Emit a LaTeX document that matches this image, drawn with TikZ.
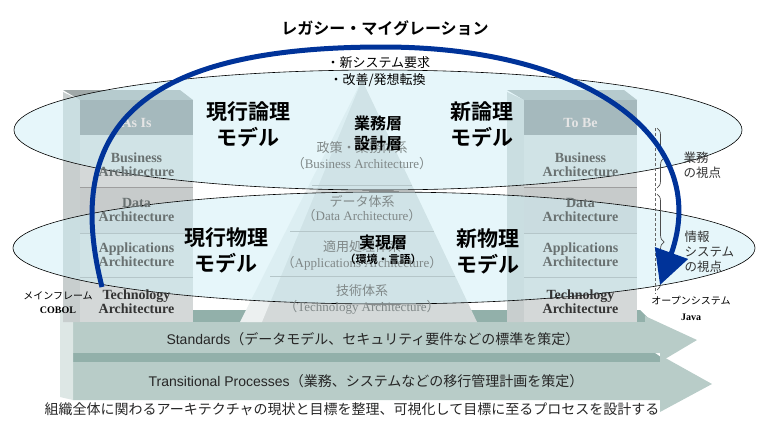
\documentclass[tikz,border=0pt]{standalone}
\usepackage{fontspec}
\setmainfont{Liberation Serif}
\setsansfont{Liberation Sans}
\newfontfamily\jp{Noto Sans CJK JP}
\newfontfamily\jpb{Noto Sans CJK JP Bold}
\usetikzlibrary{arrows.meta,positioning,decorations.pathreplacing}
\definecolor{migblue}{RGB}{0,51,153}
\definecolor{bandfront}{RGB}{184,204,200}
\definecolor{bandtop}{RGB}{146,176,170}
\definecolor{bandside}{RGB}{221,231,229}
\definecolor{colfront}{RGB}{212,216,216}
\definecolor{colside}{RGB}{200,206,206}
\definecolor{colhead}{RGB}{125,133,133}
\definecolor{coltop}{RGB}{160,168,168}
\definecolor{pyrfill}{RGB}{212,217,217}
\definecolor{pyrlight}{RGB}{236,240,240}
\definecolor{ellfill}{RGB}{205,238,245}
\definecolor{greytext}{RGB}{128,136,136}
\definecolor{coltext}{RGB}{105,113,113}

\begin{document}
\begin{tikzpicture}[x=1pt,y=-1pt,
    ellip/.style={draw=black,line width=0.6pt,fill=ellfill,fill opacity=0.5},
    rowline/.style={draw=black!38,line width=0.6pt},
    headtext/.style={font=\bfseries\fontsize{14}{14}\selectfont,text=white!90!black},
    coltxt/.style={font=\bfseries\fontsize{14}{14}\selectfont,text=coltext,align=center},
    pyrjp/.style={font=\jp\fontsize{13}{13}\selectfont,text=greytext},
    pyrlat/.style={font=\fontsize{13}{13}\selectfont,text=greytext},
    bigjp/.style={font=\jpb\fontsize{21}{26}\selectfont,align=center},
    layerjp/.style={font=\jpb\fontsize{16}{20}\selectfont,align=center},
    sidejp/.style={font=\jp\fontsize{12.5}{15}\selectfont,text=black!80,align=left,anchor=west},
    smalljp/.style={font=\jp\fontsize{10}{12}\selectfont},
    smallser/.style={font=\bfseries\fontsize{10}{12}\selectfont},
    bandtxt/.style={font=\sffamily\fontsize{14}{14}\selectfont,text=black!85},
    migr/.style={draw=migblue,line width=5pt,-{Triangle[length=34pt,width=34pt]}},
    viewbrace/.style={draw=black!70,line width=0.7pt,decorate,decoration={brace,amplitude=7pt}}
  ]
  \useasboundingbox (0,0) rectangle (767,434);

  \fill[bandtop] (60,310) -- (640,310) -- (652,322) -- (73,322) -- cycle;
  \fill[bandfront] (73,322) -- (645,322) -- (645,316) -- (697,340) -- (660,362) -- (660,353) -- (73,353) -- cycle;
  \fill[bandtop] (73,353) -- (655,353) -- (668,362) -- (73,362) -- cycle;
  \fill[bandfront] (73,362) -- (660,362) -- (660,355) -- (712,384) -- (660,412) -- (660,400) -- (73,400) -- cycle;
  \fill[bandside] (60,310) -- (73,322) -- (73,400) -- (60,397) -- cycle;

  \fill[pyrfill] (362,80) -- (477,322) -- (247,322) -- cycle;
  \fill[pyrlight] (362,80) -- (262,322) -- (240,322) -- cycle;
  \draw[rowline] (312,185) -- (412,185);
  \draw[rowline] (290,231) -- (434,231);
  \draw[rowline] (270,276) -- (455,276);

  \foreach \dx in {0,444}{
    \begin{scope}[shift={(\dx,0)}]
      \fill[colside] (63,92) -- (80,100) -- (80,322) -- (63,322) -- cycle;
      \fill[coltop] (63,90) -- (180,90) -- (193,100) -- (80,100) -- cycle;
      \fill[colhead] (80,100) rectangle (193,135);
      \fill[colfront] (80,135) rectangle (193,322);
      \fill[colfront!94!black] (80,187) rectangle (193,233);
      \draw[rowline] (80,187) -- (193,187);
      \draw[rowline] (80,233) -- (193,233);
      \draw[rowline] (80,277) -- (193,277);
    \end{scope}
  }

  \draw[ellip] (378,130) ellipse [x radius=364, y radius=60];
  \draw[ellip] (384,248) ellipse [x radius=371, y radius=56];

  \node[pyrjp] (pbusjp) at (362,148) {政策・業務体系};
  \node[pyrlat] (pbus) at (362,164) {{\jp （}Business Architecture{\jp ）}};
  \node[pyrjp] (pdatjp) at (362,201) {データ体系};
  \node[pyrlat] (pdat) at (362,216) {{\jp （}Data Architecture{\jp ）}};
  \node[pyrjp] (pappjp) at (362,247) {適用処理体系};
  \node[pyrlat] (papp) at (362,263) {{\jp （}Applications Architecture{\jp ）}};
  \node[pyrjp] (ptecjp) at (362,291) {技術体系};
  \node[pyrlat] (ptec) at (362,307) {{\jp （}Technology Architecture{\jp ）}};

  \foreach \dx/\head/\nm in {0/As Is/asis,444/To Be/tobe}{
    \begin{scope}[shift={(\dx,0)}]
      \node[headtext] (\nm-head) at (136.5,123) {\head};
      \node[coltxt] (\nm-bus) at (136.5,165) {Business\\Architecture};
      \node[coltxt] (\nm-dat) at (136.5,210) {Data\\Architecture};
      \node[coltxt] (\nm-app) at (136.5,255) {Applications\\Architecture};
      \node[coltxt,text=black!80] (\nm-tec) at (136.5,302) {Technology\\Architecture};
    \end{scope}
  }

  \node[font=\jpb\fontsize{16}{16}\selectfont] (title) at (385,28) {レガシー・マイグレーション};
  \node[font=\jp\fontsize{13}{13}\selectfont,anchor=west] (req) at (323,63) {・新システム要求};
  \node[font=\jp\fontsize{13}{13}\selectfont,anchor=west] (chg) at (326,80) {・改善/発想転換};

  \node[bigjp] (curlog) at (248,124) {現行論理\\モデル};
  \node[bigjp] (newlog) at (482,124) {新論理\\モデル};
  \node[bigjp] (curphy) at (226,250) {現行物理\\モデル};
  \node[bigjp] (newphy) at (488,251) {新物理\\モデル};
  \node[layerjp] (bizlayer) at (378,133) {業務層\\設計層};
  \node[layerjp] (implayer) at (383,242) {実現層};
  \node[font=\jpb\fontsize{11}{11}\selectfont] (envlang) at (383,259) {（環境・言語）};

  \node[bandtxt] (std) at (373,339) {Standards{\jp （データモデル、セキュリティ要件などの標準を策定）}};
  \node[bandtxt] (trans) at (366,381) {Transitional Processes{\jp （業務、システムなどの移行管理計画を策定）}};
  \node[font=\jp\fontsize{14}{14}\selectfont,text=black!85] (goal) at (352,409) {組織全体に関わるアーキテクチャの現状と目標を整理、可視化して目標に至るプロセスを設計する};

  \draw[black!60,line width=0.5pt,dash pattern=on 3pt off 2pt] (655,128) -- (655,294);
  \draw[viewbrace] (657,128) -- (657,188);
  \draw[viewbrace] (657,194) -- (657,290);
  \node[sidejp] (bizview) at (680,165) {業務\\の視点};
  \node[sidejp] (sysview) at (681,252) {情報\\システム\\の視点};

  \node[smalljp] (mainfr) at (58,296) {メインフレーム};
  \node[smallser] (cobol) at (58,310) {COBOL};
  \node[smalljp] (opensys) at (691,301) {オープンシステム};
  \node[smallser] (java) at (691,317) {Java};

  \coordinate (legacy) at (102,287);
  \coordinate (target) at (660,285);
  \draw[migr] (legacy) .. controls (60,120) and (150,47) .. (383,47) .. controls (590,47) and (712,140) .. (target);
\end{tikzpicture}
\end{document}
